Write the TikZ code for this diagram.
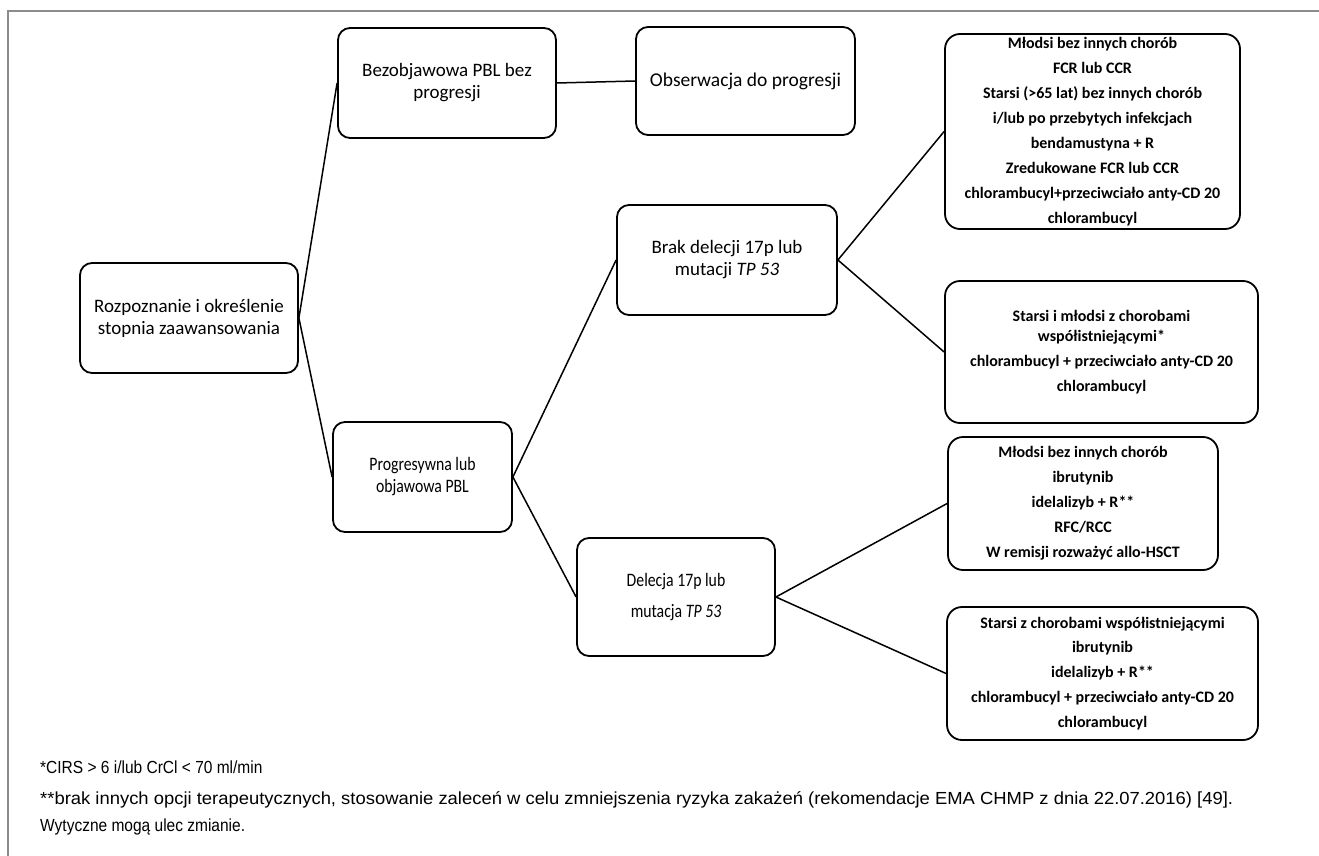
\documentclass[tikz,border=0pt]{standalone}
\usepackage{fontspec}
\usepackage{graphicx}
\setmainfont{Carlito}
\newfontfamily\arialf{Liberation Sans}
\newcommand{\narrowtxt}[1]{\scalebox{0.83}[1]{#1}}
\newcommand{\fnnarrow}[1]{\scalebox{0.886}[1]{#1}}
\begin{document}
\begin{tikzpicture}[x=1pt,y=-1pt,
  box/.style={draw=black, line width=1.8pt, rounded corners=12pt, inner sep=0pt, align=center,
              font=\fontsize{19}{22}\selectfont},
  rbox/.style={draw=black, line width=1.8pt, rounded corners=15pt, inner sep=0pt, align=center,
              font=\fontsize{16}{24.9}\selectfont\bfseries},
  conn/.style={draw=black, line width=1.5pt},
  fn/.style={anchor=base west, inner sep=0pt, font=\arialf\fontsize{17.5}{20}\selectfont},
  frame/.style={draw=black!45, line width=1.4pt}]
\useasboundingbox (0,0) rectangle (1319,856);
\draw[frame] (1319,11) -- (8,11) -- (8,856);

\node[box, minimum width=218pt, minimum height=110pt] (root) at (189,318)
  {Rozpoznanie i określenie\\stopnia zaawansowania};
\node[box, minimum width=218pt, minimum height=110pt] (bez) at (447,83)
  {Bezobjawowa PBL bez\\progresji};
\node[box, minimum width=219pt, minimum height=108pt, font=\fontsize{19.5}{22}\selectfont] (obs) at (745.5,81)
  {Obserwacja do progresji};
\node[box, minimum width=179pt, minimum height=110pt] (prog) at (422.5,477)
  {\narrowtxt{Progresywna lub}\\\narrowtxt{objawowa PBL}};
\node[box, minimum width=220pt, minimum height=110pt] (brak) at (727,260)
  {Brak delecji 17p lub\\mutacji \textit{TP 53}};
\node[box, minimum width=198pt, minimum height=118pt] (del) at (676,597)
  {\narrowtxt{Delecja 17p lub}\\[9pt]\narrowtxt{mutacja \textit{TP 53}}};

\node[rbox, minimum width=295pt, minimum height=195pt] (r1) at (1092.5,131.5)
  {Młodsi bez innych chorób\\FCR lub CCR\\Starsi (>65 lat) bez innych chorób\\i/lub po przebytych infekcjach\\bendamustyna + R\\Zredukowane FCR lub CCR\\chlorambucyl+przeciwciało anty-CD 20\\chlorambucyl};
\node[rbox, minimum width=313pt, minimum height=142pt] (r2) at (1101.5,352)
  {Starsi i młodsi z chorobami\\[-4.9pt]współistniejącymi*\\chlorambucyl + przeciwciało anty-CD 20\\chlorambucyl};
\node[rbox, minimum width=270pt, minimum height=133pt] (r3) at (1083,503.5)
  {Młodsi bez innych chorób\\ibrutynib\\idelalizyb + R**\\RFC/RCC\\W remisji rozważyć allo-HSCT};
\node[rbox, minimum width=311pt, minimum height=133pt] (r4) at (1102.5,673.5)
  {Starsi z chorobami współistniejącymi\\ibrutynib\\idelalizyb + R**\\chlorambucyl + przeciwciało anty-CD 20\\chlorambucyl};

\draw[conn] (root.east) -- (bez.west);
\draw[conn] (root.east) -- (prog.west);
\draw[conn] (bez.east) -- (obs.west);
\draw[conn] (prog.east) -- (brak.west);
\draw[conn] (prog.east) -- (del.west);
\draw[conn] (brak.east) -- (r1.west);
\draw[conn] (brak.east) -- (r2.west);
\draw[conn] (del.east) -- (r3.west);
\draw[conn] (del.east) -- (r4.west);

\node[fn] (fn1) at (40,773.5) {\fnnarrow{*CIRS > 6 i/lub CrCl < 70 ml/min}};
\node[fn] (fn2) at (40,804) {\resizebox{1193pt}{\height}{**brak innych opcji terapeutycznych, stosowanie zaleceń w celu zmniejszenia ryzyka zakażeń (rekomendacje EMA CHMP z dnia 22.07.2016) [49].}};
\node[fn] (fn3) at (40,831) {\fnnarrow{Wytyczne mogą ulec zmianie.}};
\end{tikzpicture}
\end{document}
